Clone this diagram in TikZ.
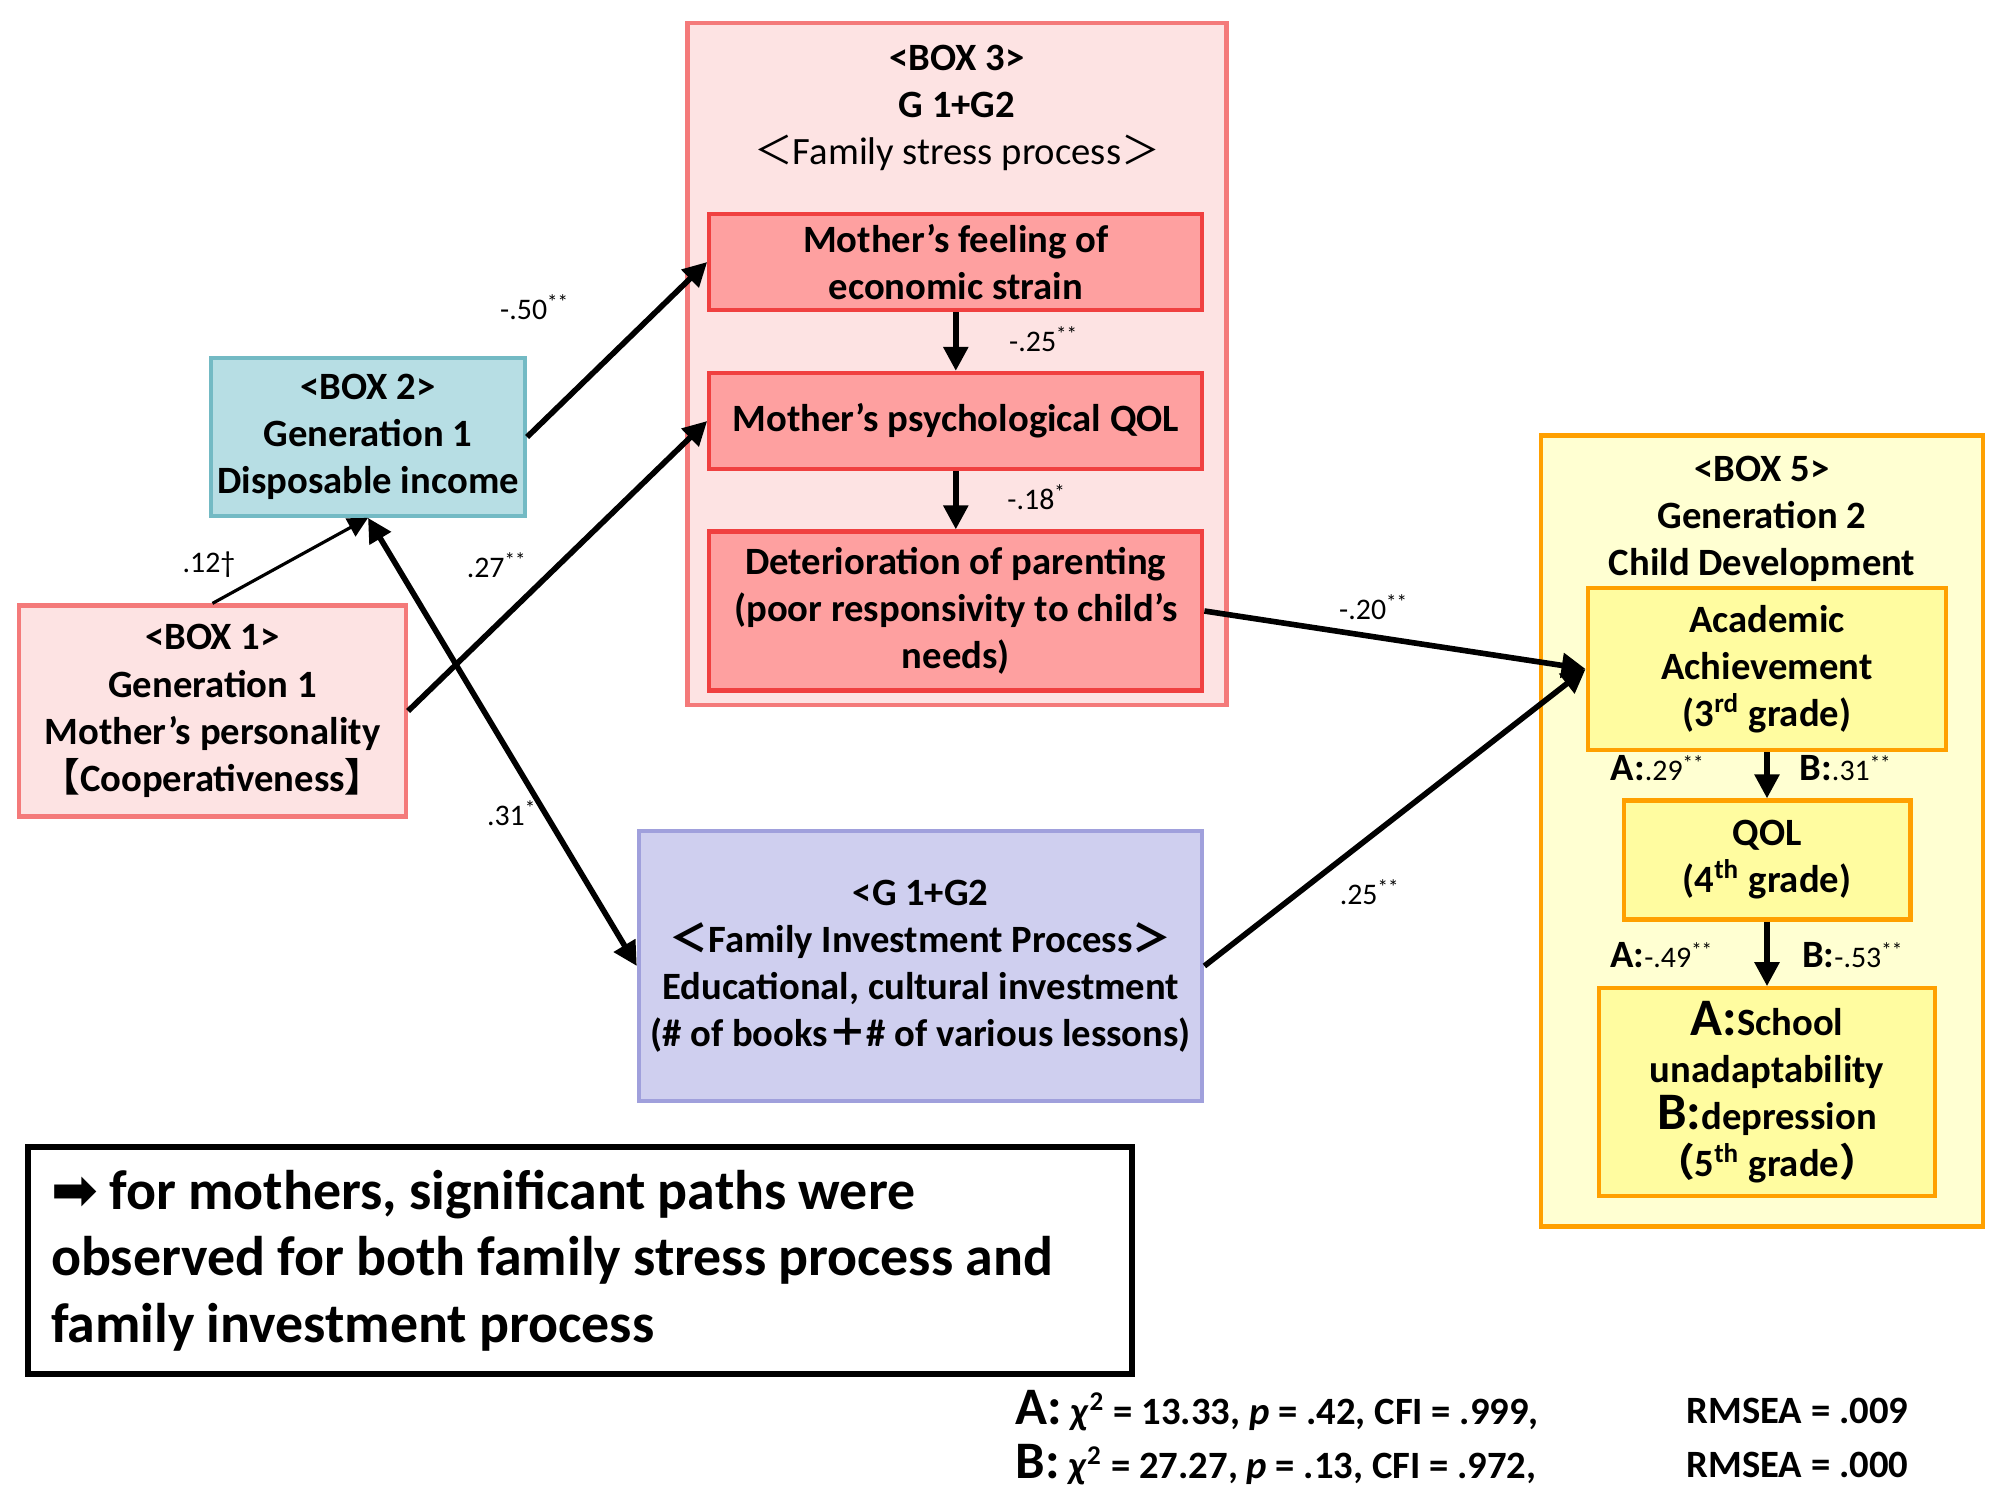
\documentclass[tikz,border=0pt]{standalone}
\usepackage{fontspec}
\setmainfont{Carlito}
\newfontfamily\cjk{Noto Sans CJK JP}
\newfontfamily\symb{DejaVu Sans}
\usepackage{xcolor}
\usetikzlibrary{arrows.meta,positioning}

\definecolor{boxpink}{RGB}{253,227,227}
\definecolor{linepink}{RGB}{244,122,122}
\definecolor{boxteal}{RGB}{183,222,228}
\definecolor{lineteal}{RGB}{115,186,196}
\definecolor{boxred}{RGB}{254,160,160}
\definecolor{linered}{RGB}{240,64,64}
\definecolor{boxlav}{RGB}{207,207,239}
\definecolor{linelav}{RGB}{160,160,220}
\definecolor{boxcream}{RGB}{255,255,210}
\definecolor{boxyellow}{RGB}{255,252,160}
\definecolor{lineorange}{RGB}{255,160,0}

\newcommand\boxfont{\bfseries\fontsize{11}{13.4}\selectfont}
\newcommand\pathfont{\fontsize{8.5}{10}\selectfont}
\newcommand\bigAB{\bfseries\fontsize{15}{13.4}\selectfont}

\tikzset{
    box/.style={draw, line width=1.2pt, align=center, inner sep=0pt, font=\boxfont},
    pinkbox/.style={box, fill=boxpink, draw=linepink},
    redbox/.style={box, fill=boxred, draw=linered, minimum width=4.93cm},
    yellowbox/.style={box, fill=boxyellow, draw=lineorange},
    headtext/.style={align=center, inner sep=0pt, font=\boxfont},
    pathlabel/.style={inner sep=1pt, font=\pathfont},
    path/.style={line width=1.6pt, -{Triangle[length=2.4mm,width=2.4mm]}},
    twoway/.style={line width=1.6pt, {Triangle[length=2.4mm,width=2.4mm]}-{Triangle[length=2.4mm,width=2.4mm]}},
    thinpath/.style={line width=0.9pt, -{Triangle[length=2mm,width=2mm]}},
    fitline/.style={anchor=west, inner sep=0pt, font=\bfseries\fontsize{11}{14}\selectfont}
}

\begin{document}
\begin{tikzpicture}
    \useasboundingbox (0,0) rectangle (20,15);

    % generation 1
    \node[
        box,
        fill=boxteal,
        draw=lineteal,
        minimum width=3.14cm,
        minimum height=1.575cm
        ] (box2) at (3.68,10.63) {<BOX 2>\\Generation 1\\Disposable income};

    \node[
        pinkbox,
        minimum width=3.87cm,
        minimum height=2.11cm
        ] (box1) at (2.125,7.89) {<BOX 1>\\Generation 1\\Mother’s personality\\{\cjk【}Cooperativeness{\cjk】}};

    % family stress process
    \node[
        pinkbox,
        minimum width=5.39cm,
        minimum height=6.82cm
        ] (box3) at (9.57,11.36) {};
    \node[headtext] (box3head) at (9.57,13.92) {<BOX 3>\\G 1+G2\\{\mdseries{\cjk＜}Family stress process{\cjk＞}}};

    \node[redbox, minimum height=0.96cm] (strain) at (9.558,12.38) {Mother’s feeling of\\economic strain};
    \node[redbox, minimum height=0.96cm] (mqol) at (9.558,10.79) {Mother’s psychological QOL};
    \node[redbox, minimum height=1.59cm] (parenting) at (9.558,8.89) {Deterioration of parenting\\(poor responsivity to child’s\\needs)};

    % family investment process
    \node[
        box,
        fill=boxlav,
        draw=linelav,
        minimum width=5.634cm,
        minimum height=2.70cm
        ] (invest) at (9.206,5.34) {<G 1+G2\\{\cjk＜}Family Investment Process{\cjk＞}\\Educational, cultural investment\\(\# of books{\cjk＋}\# of various lessons)};

    % generation 2
    \node[
        box,
        fill=boxcream,
        draw=lineorange,
        minimum width=4.42cm,
        minimum height=7.91cm
        ] (box5) at (17.62,6.69) {};
    \node[headtext] (box5head) at (17.62,9.81) {<BOX 5>\\Generation 2\\Child Development};

    \node[yellowbox, minimum width=3.585cm, minimum height=1.626cm] (academic) at (17.67,8.31) {Academic\\Achievement\\(3\textsuperscript{rd} grade)};
    \node[yellowbox, minimum width=2.868cm, minimum height=1.19cm] (cqol) at (17.67,6.40) {QOL\\(4\textsuperscript{th} grade)};
    \node[yellowbox, minimum width=3.355cm, minimum height=2.074cm] (adapt) at (17.67,4.08) {{\bigAB A:}School\\unadaptability\\{\bigAB B:}depression\\{\cjk（}5\textsuperscript{th} grade{\cjk）}};

    % paths
    \draw[thinpath] (box1.north) -- (box2.south);
    \draw[twoway] (box2.south) -- (invest.west);
    \draw[path] (box2.east) -- (strain.west);
    \draw[path] (box1.east) -- (mqol.west);
    \draw[path] (strain.south) -- (mqol.north);
    \draw[path] (mqol.south) -- (parenting.north);
    \draw[path] (parenting.east) -- (academic.west);
    \draw[path] (invest.east) -- (academic.west);
    \draw[path] (academic.south) -- (cqol.north);
    \draw[path] (cqol.south) -- (adapt.north);

    % coefficients
    \node[pathlabel] (c12) at (2.09,9.35) {.12†};
    \node[pathlabel] (c50) at (5.35,11.93) {-.50\textsuperscript{**}};
    \node[pathlabel] (c27) at (4.97,9.35) {.27\textsuperscript{**}};
    \node[pathlabel] (c31) at (5.12,6.87) {.31\textsuperscript{*}};
    \node[pathlabel] (c25) at (10.44,11.61) {-.25\textsuperscript{**}};
    \node[pathlabel] (c18) at (10.37,10.03) {-.18\textsuperscript{*}};
    \node[pathlabel] (c20) at (13.74,8.93) {-.20\textsuperscript{**}};
    \node[pathlabel] (c25b) at (13.70,6.08) {.25\textsuperscript{**}};
    \node[pathlabel] (a29) at (16.58,7.32) {{\boxfont A:}.29\textsuperscript{**}};
    \node[pathlabel] (b31) at (18.46,7.32) {{\boxfont B:}.31\textsuperscript{**}};
    \node[pathlabel] (a49) at (16.62,5.45) {{\boxfont A:}-.49\textsuperscript{**}};
    \node[pathlabel] (b53) at (18.53,5.45) {{\boxfont B:}-.53\textsuperscript{**}};

    % note
    \node[
        draw,
        line width=1.6pt,
        fill=white,
        minimum width=11.04cm,
        minimum height=2.266cm,
        text width=10.58cm,
        align=left,
        inner sep=0pt,
        font=\bfseries\fontsize{15.9}{18.9}\selectfont
        ] (note) at (5.80,2.394) {\spaceskip=3.4pt plus 1pt minus 0.5pt\relax
        {\symb ➡} for mothers, significant paths were\\observed for both family stress process and\\family investment process};

    % model fit
    \node[fitline] (fitA) at (10.15,0.89) {{\bigAB A:} \textit{χ}\textsuperscript{2} = 13.33, \textit{p} = .42, CFI = .999,};
    \node[fitline] (rmseaA) at (16.86,0.89) {RMSEA = .009};
    \node[fitline] (fitB) at (10.15,0.35) {{\bigAB B:} \textit{χ}\textsuperscript{2} = 27.27, \textit{p} = .13, CFI = .972,};
    \node[fitline] (rmseaB) at (16.86,0.35) {RMSEA = .000};
\end{tikzpicture}
\end{document}
